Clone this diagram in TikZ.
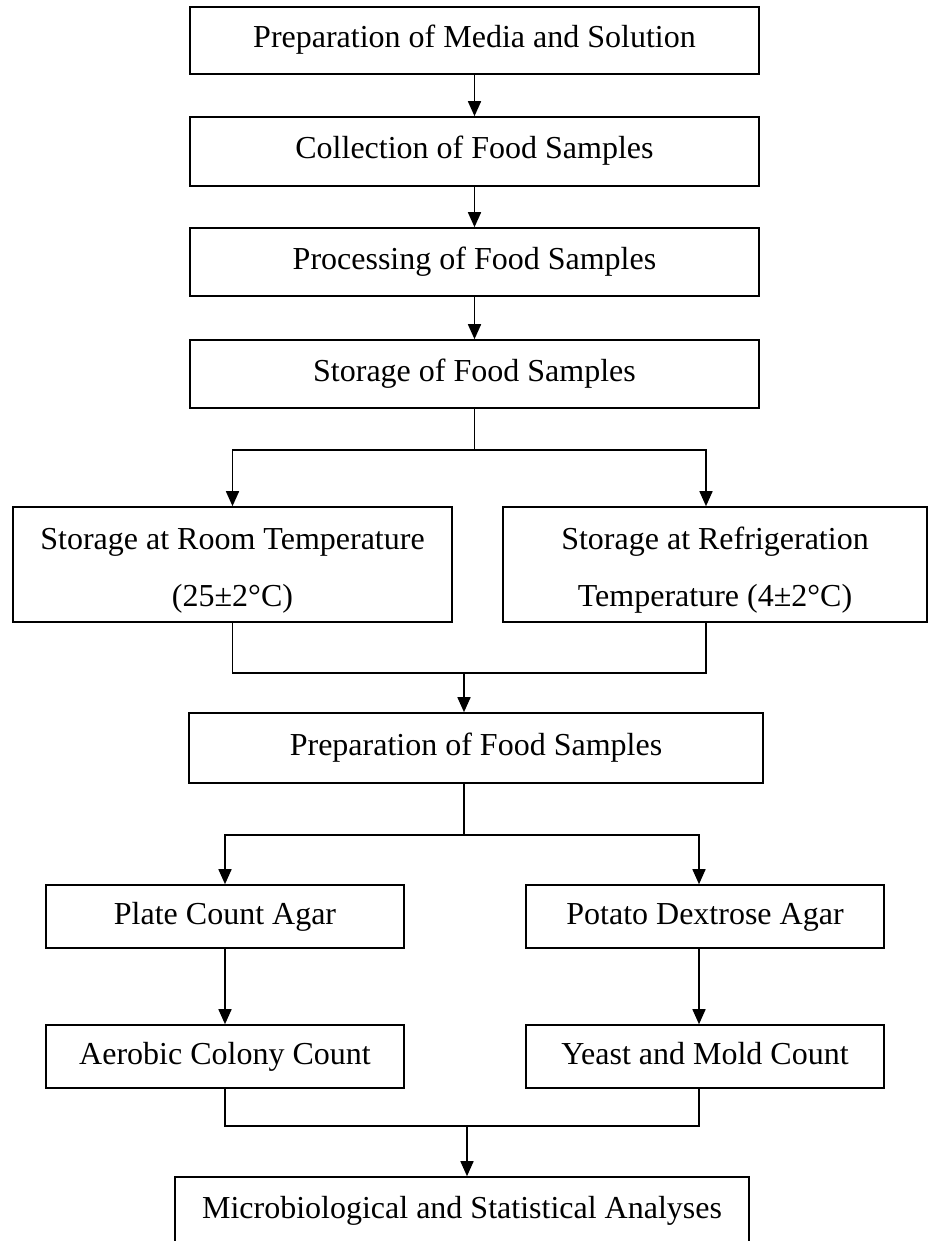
\documentclass[tikz,border=0pt]{standalone}
\usepackage{fontspec}
\setmainfont{Liberation Serif}
\usetikzlibrary{arrows.meta}

\begin{document}
\begin{tikzpicture}[
        x = 0.5pt, y = -0.5pt, % one unit = one pixel of the layout, y going down
        > = {Triangle[length=7.5pt, width=6.5pt]}, % filled arrow head
        line width = 0.8pt, % line style
        font = \fontsize{16}{28.5}\selectfont
    ]

    \tikzstyle{box}=[
        draw = black,
        rectangle,
        align = center,
        inner sep = 0pt,
        text height = 11pt,
        text depth = 3.5pt
    ]
    \tikzstyle{twobox}=[
        draw = black,
        rectangle,
        align = center,
        inner sep = 0pt
    ]

    \useasboundingbox (0,0) rectangle (928,1241);

    % main column
    \node[box, minimum width=284.5pt, minimum height=33.5pt] (media) at (474.5,40.5) {Preparation of Media and Solution};
    \node[box, minimum width=284.5pt, minimum height=34.5pt] (collect) at (474.5,151.5) {Collection of Food Samples};
    \node[box, minimum width=284.5pt, minimum height=34pt] (process) at (474.5,262) {Processing of Food Samples};
    \node[box, minimum width=284.5pt, minimum height=34pt] (store) at (474.5,374) {Storage of Food Samples};

    % storage conditions
    \node[twobox, minimum width=219.5pt, minimum height=57.5pt] (room) at (232.5,564.5) {\rule{0pt}{17pt}Storage at Room Temperature\\(25±2°C)};
    \node[twobox, minimum width=212pt, minimum height=57.5pt] (fridge) at (715,564.5) {\rule{0pt}{17pt}Storage at Refrigeration\\Temperature (4±2°C)};

    \node[box, minimum width=287pt, minimum height=35pt] (prep) at (476,748) {Preparation of Food Samples};

    % media and counts
    \node[box, minimum width=179pt, minimum height=31.5pt] (pca) at (225,916.5) {Plate Count Agar};
    \node[box, minimum width=179pt, minimum height=31.5pt] (pda) at (705,916.5) {Potato Dextrose Agar};
    \node[box, minimum width=179pt, minimum height=31.5pt] (acc) at (225,1056.5) {Aerobic Colony Count};
    \node[box, minimum width=179pt, minimum height=31.5pt] (ymc) at (705,1056.5) {Yeast and Mold Count};

    \node[box, minimum width=287pt, minimum height=33.5pt] (micro) at (462,1210.5) {Microbiological and Statistical Analyses};

    \coordinate (join1) at (464,673);
    \coordinate (join2) at (467,1126);

    \draw[->] (media) -- (collect);
    \draw[->] (collect) -- (process);
    \draw[->] (process) -- (store);

    \draw (store.south) -- ++(0,41) coordinate (split1);
    \draw[->] (split1) -| (room.north);
    \draw[->] (split1) -| ([xshift=-4.5pt]fridge.north);

    \draw (room.south) |- (join1) -| ([xshift=-4.5pt]fridge.south);
    \draw[->] (join1) -- (join1 |- prep.north);

    \draw (join1 |- prep.south) -- ++(0,51) coordinate (split2);
    \draw[->] (split2) -| (pca.north);
    \draw[->] (split2) -| ([xshift=-3pt]pda.north);

    \draw[->] (pca) -- (acc);
    \draw[->] ([xshift=-3pt]pda.south) -- ([xshift=-3pt]ymc.north);

    \draw (acc.south) |- (join2) -| ([xshift=-3pt]ymc.south);
    \draw[->] (join2) -- (join2 |- micro.north);

\end{tikzpicture}
\end{document}
